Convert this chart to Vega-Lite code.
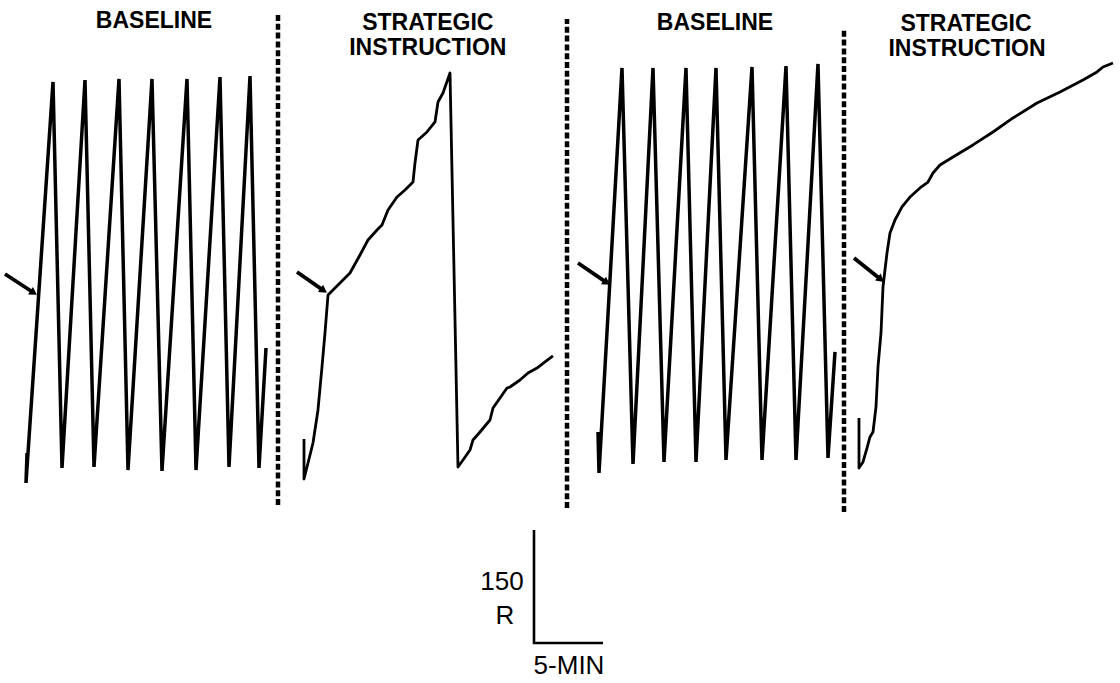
{
  "$schema": "https://vega.github.io/schema/vega-lite/v6.json",
  "autosize": {"type": "fit", "contains": "padding"},
  "width": 1120,
  "height": 683,
  "padding": 0,
  "background": "white",
  "config": {"view": {"stroke": null}},
  "datasets": {
    "rec": [
      {"series": "p1", "i": 0, "t": 1.957, "r": 252.2},
      {"series": "p1", "i": 1, "t": 1.884, "r": 212.4},
      {"series": "p1", "i": 2, "t": 3.841, "r": 744.7},
      {"series": "p1", "i": 3, "t": 4.493, "r": 232.3},
      {"series": "p1", "i": 4, "t": 6.159, "r": 747.3},
      {"series": "p1", "i": 5, "t": 6.812, "r": 233.6},
      {"series": "p1", "i": 6, "t": 8.623, "r": 748.7},
      {"series": "p1", "i": 7, "t": 9.275, "r": 229.6},
      {"series": "p1", "i": 8, "t": 11.014, "r": 748.7},
      {"series": "p1", "i": 9, "t": 11.739, "r": 228.3},
      {"series": "p1", "i": 10, "t": 13.551, "r": 748.7},
      {"series": "p1", "i": 11, "t": 14.203, "r": 229.6},
      {"series": "p1", "i": 12, "t": 15.942, "r": 751.3},
      {"series": "p1", "i": 13, "t": 16.594, "r": 233.6},
      {"series": "p1", "i": 14, "t": 18.116, "r": 752.6},
      {"series": "p1", "i": 15, "t": 18.768, "r": 232.3},
      {"series": "p1", "i": 16, "t": 19.275, "r": 391.6},

      {"series": "p2", "i": 0, "t": 22.029, "r": 270.8},
      {"series": "p2", "i": 1, "t": 22.029, "r": 217.7},
      {"series": "p2", "i": 2, "t": 22.681, "r": 265.5},
      {"series": "p2", "i": 3, "t": 23.043, "r": 309.3},
      {"series": "p2", "i": 4, "t": 23.333, "r": 366.4},
      {"series": "p2", "i": 5, "t": 23.551, "r": 411.5},
      {"series": "p2", "i": 6, "t": 23.768, "r": 461.9},
      {"series": "p2", "i": 7, "t": 25.362, "r": 491.1},
      {"series": "p2", "i": 8, "t": 26.087, "r": 515.0},
      {"series": "p2", "i": 9, "t": 26.667, "r": 534.9},
      {"series": "p2", "i": 10, "t": 27.319, "r": 548.2},
      {"series": "p2", "i": 11, "t": 27.681, "r": 554.9},
      {"series": "p2", "i": 12, "t": 28.116, "r": 574.8},
      {"series": "p2", "i": 13, "t": 28.768, "r": 592.0},
      {"series": "p2", "i": 14, "t": 29.348, "r": 601.3},
      {"series": "p2", "i": 15, "t": 29.928, "r": 611.9},
      {"series": "p2", "i": 16, "t": 30.072, "r": 637.2},
      {"series": "p2", "i": 17, "t": 30.290, "r": 667.7},
      {"series": "p2", "i": 18, "t": 30.942, "r": 678.3},
      {"series": "p2", "i": 19, "t": 31.522, "r": 691.6},
      {"series": "p2", "i": 20, "t": 31.739, "r": 718.1},
      {"series": "p2", "i": 21, "t": 32.101, "r": 730.1},
      {"series": "p2", "i": 22, "t": 32.609, "r": 756.6},
      {"series": "p2", "i": 23, "t": 33.188, "r": 233.6},
      {"series": "p2", "i": 24, "t": 33.551, "r": 242.9},
      {"series": "p2", "i": 25, "t": 34.058, "r": 256.2},
      {"series": "p2", "i": 26, "t": 34.275, "r": 269.5},
      {"series": "p2", "i": 27, "t": 34.783, "r": 280.1},
      {"series": "p2", "i": 28, "t": 35.507, "r": 296.0},
      {"series": "p2", "i": 29, "t": 35.725, "r": 311.9},
      {"series": "p2", "i": 30, "t": 36.232, "r": 325.2},
      {"series": "p2", "i": 31, "t": 36.739, "r": 338.5},
      {"series": "p2", "i": 32, "t": 36.957, "r": 339.8},
      {"series": "p2", "i": 33, "t": 37.681, "r": 349.1},
      {"series": "p2", "i": 34, "t": 38.261, "r": 358.4},
      {"series": "p2", "i": 35, "t": 38.913, "r": 365.0},
      {"series": "p2", "i": 36, "t": 39.493, "r": 373.0},
      {"series": "p2", "i": 37, "t": 40.072, "r": 381.0},

      {"series": "p3", "i": 0, "t": 43.333, "r": 280.1},
      {"series": "p3", "i": 1, "t": 43.406, "r": 225.7},
      {"series": "p3", "i": 2, "t": 45.072, "r": 763.3},
      {"series": "p3", "i": 3, "t": 45.870, "r": 237.6},
      {"series": "p3", "i": 4, "t": 47.319, "r": 763.3},
      {"series": "p3", "i": 5, "t": 48.116, "r": 240.3},
      {"series": "p3", "i": 6, "t": 49.710, "r": 763.3},
      {"series": "p3", "i": 7, "t": 50.435, "r": 240.3},
      {"series": "p3", "i": 8, "t": 51.884, "r": 763.3},
      {"series": "p3", "i": 9, "t": 52.609, "r": 242.9},
      {"series": "p3", "i": 10, "t": 54.493, "r": 764.6},
      {"series": "p3", "i": 11, "t": 55.217, "r": 242.9},
      {"series": "p3", "i": 12, "t": 56.957, "r": 765.9},
      {"series": "p3", "i": 13, "t": 57.681, "r": 242.9},
      {"series": "p3", "i": 14, "t": 59.275, "r": 768.6},
      {"series": "p3", "i": 15, "t": 60.000, "r": 245.6},
      {"series": "p3", "i": 16, "t": 60.507, "r": 386.3},

      {"series": "p4", "i": 0, "t": 62.246, "r": 298.7},
      {"series": "p4", "i": 1, "t": 62.246, "r": 232.3},
      {"series": "p4", "i": 2, "t": 62.536, "r": 240.3},
      {"series": "p4", "i": 3, "t": 62.826, "r": 258.8},
      {"series": "p4", "i": 4, "t": 63.043, "r": 273.5},
      {"series": "p4", "i": 5, "t": 63.261, "r": 280.1},
      {"series": "p4", "i": 6, "t": 63.478, "r": 313.3},
      {"series": "p4", "i": 7, "t": 63.623, "r": 366.4},
      {"series": "p4", "i": 8, "t": 63.841, "r": 411.5},
      {"series": "p4", "i": 9, "t": 63.986, "r": 472.6},
      {"series": "p4", "i": 10, "t": 64.275, "r": 517.7},
      {"series": "p4", "i": 11, "t": 64.493, "r": 544.2},
      {"series": "p4", "i": 12, "t": 64.855, "r": 561.5},
      {"series": "p4", "i": 13, "t": 65.362, "r": 578.8},
      {"series": "p4", "i": 14, "t": 65.942, "r": 592.0},
      {"series": "p4", "i": 15, "t": 66.667, "r": 604.0},
      {"series": "p4", "i": 16, "t": 67.246, "r": 611.9},
      {"series": "p4", "i": 17, "t": 67.609, "r": 623.9},
      {"series": "p4", "i": 18, "t": 68.116, "r": 634.5},
      {"series": "p4", "i": 19, "t": 69.058, "r": 645.1},
      {"series": "p4", "i": 20, "t": 70.507, "r": 661.1},
      {"series": "p4", "i": 21, "t": 71.957, "r": 678.3},
      {"series": "p4", "i": 22, "t": 73.406, "r": 696.9},
      {"series": "p4", "i": 23, "t": 75.145, "r": 716.8},
      {"series": "p4", "i": 24, "t": 76.812, "r": 731.4},
      {"series": "p4", "i": 25, "t": 78.478, "r": 747.3},
      {"series": "p4", "i": 26, "t": 79.493, "r": 758.0},
      {"series": "p4", "i": 27, "t": 79.928, "r": 764.6},
      {"series": "p4", "i": 28, "t": 80.652, "r": 769.9},

      {"series": "scale", "i": 0, "t": 38.696, "r": 150},
      {"series": "scale", "i": 1, "t": 38.696, "r": 0},
      {"series": "scale", "i": 2, "t": 43.696, "r": 0}
    ],
    "phase": [
      {"t": 20.145, "r1": 183.2, "r2": 833.6},
      {"t": 41.087, "r1": 179.2, "r2": 828.3},
      {"t": 61.159, "r1": 173.9, "r2": 816.4}
    ],
    "arrows": [
      {"a": "A1", "t1": 0.362, "r1": 489.8, "t2": 2.442, "r2": 464.9, "ang": 33},
      {"a": "A2", "t1": 21.522, "r1": 492.5, "t2": 23.457, "r2": 467.7, "ang": 35},
      {"a": "A3", "t1": 41.884, "r1": 504.4, "t2": 43.964, "r2": 478.3, "ang": 34.5},
      {"a": "A4", "t1": 61.884, "r1": 511.1, "t2": 63.833, "r2": 482.5, "ang": 38.7}
    ],
    "titles": [
      {"label": "BASELINE", "t": 11.159, "r": 826.0},
      {"label": "STRATEGIC", "t": 31.0, "r": 823.0},
      {"label": "INSTRUCTION", "t": 31.0, "r": 789.5},
      {"label": "BASELINE", "t": 51.812, "r": 823.0},
      {"label": "STRATEGIC", "t": 70.0, "r": 821.5},
      {"label": "INSTRUCTION", "t": 70.072, "r": 788.2}
    ],
    "scalelabels": [
      {"label": "150", "t": 36.377, "r": 80.9},
      {"label": "R", "t": 36.594, "r": 35.8},
      {"label": "5-MIN", "t": 41.232, "r": -30.5}
    ]
  },
  "encoding": {
    "x": {"field": "t", "type": "quantitative", "scale": {"domain": [0, 81.16], "nice": false, "zero": false}, "axis": null},
    "y": {"field": "r", "type": "quantitative", "scale": {"domain": [-53.1, 853.5], "nice": false, "zero": false}, "axis": null}
  },
  "layer": [
    {
      "data": {"name": "rec"},
      "transform": [{"filter": "datum.series === 'p1' || datum.series === 'p3'"}],
      "mark": {"type": "line", "color": "#000000", "strokeWidth": 3.5, "strokeJoin": "miter", "strokeMiterLimit": 3},
      "encoding": {"detail": {"field": "series"}, "order": {"field": "i", "type": "quantitative"}}
    },
    {
      "data": {"name": "rec"},
      "transform": [{"filter": "datum.series === 'p2' || datum.series === 'p4'"}],
      "mark": {"type": "line", "color": "#000000", "strokeWidth": 2.8, "strokeJoin": "round"},
      "encoding": {"detail": {"field": "series"}, "order": {"field": "i", "type": "quantitative"}}
    },
    {
      "data": {"name": "rec"},
      "transform": [{"filter": "datum.series === 'scale'"}],
      "mark": {"type": "line", "color": "#000000", "strokeWidth": 2.6, "strokeJoin": "miter"},
      "encoding": {"order": {"field": "i", "type": "quantitative"}}
    },
    {
      "data": {"name": "phase"},
      "mark": {"type": "rule", "color": "#000000", "strokeWidth": 4.5, "strokeDash": [6, 2.8], "strokeCap": "butt"},
      "encoding": {
        "y": {"field": "r1", "type": "quantitative"},
        "y2": {"field": "r2"}
      }
    },
    {
      "data": {"name": "arrows"},
      "mark": {"type": "rule", "color": "#000000", "strokeWidth": 3.8, "strokeCap": "butt"},
      "encoding": {
        "x": {"field": "t1", "type": "quantitative"},
        "y": {"field": "r1", "type": "quantitative"},
        "x2": {"field": "t2"},
        "y2": {"field": "r2"}
      }
    },
    {
      "data": {"name": "arrows"},
      "mark": {"type": "point", "shape": "triangle-right", "filled": true, "color": "#000000", "size": 80, "opacity": 1},
      "encoding": {
        "x": {"field": "t2", "type": "quantitative"},
        "y": {"field": "r2", "type": "quantitative"},
        "angle": {"field": "ang", "type": "quantitative", "scale": null}
      }
    },
    {
      "data": {"name": "titles"},
      "mark": {"type": "text", "font": "Liberation Sans, Arial, sans-serif", "fontWeight": "bold", "fontSize": 23, "align": "center", "baseline": "middle", "color": "#000000"},
      "encoding": {"text": {"field": "label"}}
    },
    {
      "data": {"name": "scalelabels"},
      "mark": {"type": "text", "font": "Liberation Sans, Arial, sans-serif", "fontSize": 26, "align": "center", "baseline": "middle", "color": "#000000"},
      "encoding": {"text": {"field": "label"}}
    }
  ]
}
